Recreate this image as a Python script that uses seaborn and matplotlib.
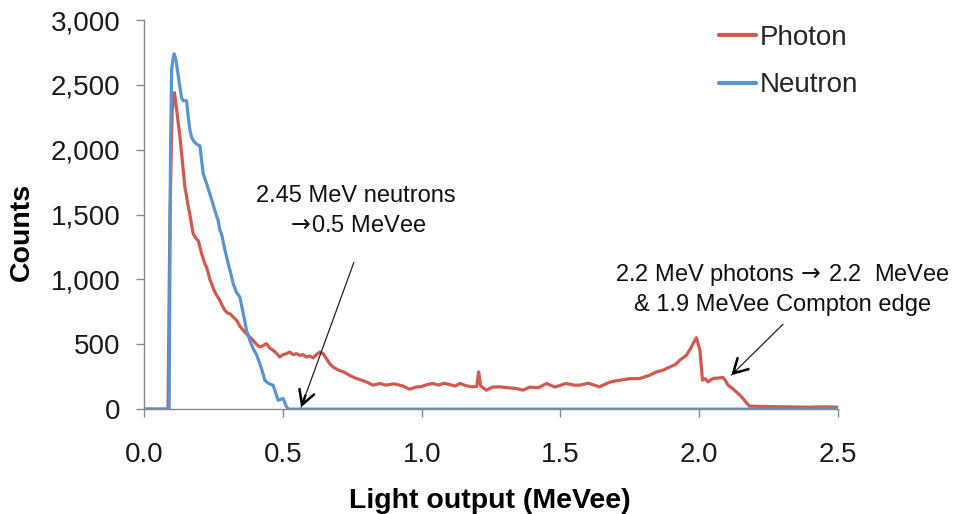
import matplotlib
matplotlib.use("Agg")
import matplotlib.pyplot as plt
import seaborn as sns
import pandas as pd

# ---- data ----
photon_x = [0.00, 0.085, 0.092, 0.100, 0.108, 0.115, 0.121, 0.128, 0.134, 0.140, 0.146, 0.152,
            0.158, 0.164, 0.170, 0.176, 0.182, 0.188, 0.194, 0.200, 0.206, 0.212, 0.218, 0.224,
            0.230, 0.236, 0.242, 0.250, 0.260, 0.272, 0.280, 0.290, 0.300, 0.308, 0.320, 0.332,
            0.344, 0.356, 0.368, 0.380, 0.392, 0.404, 0.416, 0.428, 0.440, 0.452, 0.464, 0.476,
            0.488, 0.500, 0.512, 0.524, 0.536, 0.548, 0.560, 0.572, 0.584, 0.596, 0.608, 0.620,
            0.632, 0.644, 0.656, 0.668, 0.680, 0.700, 0.720, 0.740, 0.760, 0.780, 0.800, 0.824,
            0.849, 0.870, 0.900, 0.930, 0.956, 0.980, 1.000, 1.020, 1.040, 1.060, 1.080, 1.100,
            1.120, 1.138, 1.160, 1.185, 1.198, 1.205, 1.212, 1.233, 1.255, 1.280, 1.310, 1.340,
            1.365, 1.390, 1.420, 1.450, 1.480, 1.520, 1.550, 1.570, 1.600, 1.640, 1.680, 1.714,
            1.750, 1.785, 1.820, 1.846, 1.870, 1.894, 1.915, 1.930, 1.954, 1.970, 1.978, 1.990,
            2.003, 2.012, 2.022, 2.032, 2.050, 2.070, 2.086, 2.095, 2.104, 2.120, 2.134, 2.146,
            2.158, 2.170, 2.182, 2.230, 2.300, 2.400, 2.450, 2.500]
photon_counts = [0, 0, 1500, 2300, 2440, 2330, 2220, 2100, 1970, 1840, 1710, 1640,
                 1560, 1500, 1420, 1350, 1330, 1310, 1300, 1250, 1200, 1160, 1120, 1095,
                 1050, 1000, 967, 920, 880, 838, 800, 762, 740, 736, 710, 685,
                 640, 608, 580, 556, 530, 500, 479, 490, 505, 470, 454, 430,
                 402, 420, 428, 440, 420, 428, 415, 420, 402, 410, 395, 420,
                 440, 428, 390, 350, 325, 300, 285, 260, 240, 225, 210, 185,
                 198, 185, 195, 180, 154, 170, 175, 190, 198, 185, 200, 190,
                 178, 198, 180, 172, 175, 287, 180, 146, 170, 172, 165, 160,
                 146, 170, 165, 198, 170, 198, 185, 185, 200, 172, 210, 223,
                 235, 236, 260, 287, 300, 325, 345, 377, 415, 470, 505, 551,
                 454, 223, 235, 210, 236, 240, 244, 220, 185, 160, 133, 110,
                 82, 50, 23, 20, 18, 15, 18, 15]

neutron_x = [0.00, 0.085, 0.089, 0.094, 0.098, 0.103, 0.107, 0.113, 0.120, 0.128, 0.134, 0.140,
             0.146, 0.152, 0.158, 0.164, 0.170, 0.180, 0.190, 0.200, 0.206, 0.212, 0.224, 0.236,
             0.250, 0.260, 0.266, 0.272, 0.278, 0.290, 0.302, 0.312, 0.320, 0.332, 0.344, 0.356,
             0.368, 0.380, 0.392, 0.404, 0.416, 0.425, 0.434, 0.446, 0.456, 0.464, 0.474, 0.482,
             0.490, 0.500, 0.506, 0.512, 0.520, 2.500]
neutron_counts = [0, 0, 0, 2000, 2620, 2700, 2740, 2700, 2600, 2480, 2400, 2377,
                  2380, 2377, 2250, 2150, 2095, 2060, 2040, 2031, 1920, 1813, 1740, 1659,
                  1560, 1490, 1454, 1380, 1351, 1230, 1121, 1040, 967, 900, 864, 740,
                  608, 530, 467, 420, 352, 290, 223, 200, 190, 185, 120, 69,
                  75, 82, 50, 18, 0, 0]

series_names = ["Photon", "Neutron"]
series_colors = ["#CF5B50", "#5A93CF"]
x_ticks = [0.0, 0.5, 1.0, 1.5, 2.0, 2.5]
y_ticks = [0, 500, 1000, 1500, 2000, 2500, 3000]

df = pd.concat([
    pd.DataFrame({"x": photon_x, "y": photon_counts, "Series": series_names[0]}),
    pd.DataFrame({"x": neutron_x, "y": neutron_counts, "Series": series_names[1]}),
], ignore_index=True)

sns.set_theme(style="white")
plt.rcParams["font.family"] = ["Liberation Sans", "DejaVu Sans"]
plt.rcParams["mathtext.fontset"] = "dejavusans"

fig = plt.figure(figsize=(9.63, 5.14), dpi=100)
ax = fig.add_axes([0.150, 0.204, 0.720, 0.757])

sns.lineplot(data=df, x="x", y="y", hue="Series", hue_order=series_names,
             palette=dict(zip(series_names, series_colors)), linewidth=2.3,
             estimator=None, sort=False, ax=ax)

ax.set_xlim(0, 2.5)
ax.set_ylim(0, 3000)
ax.set_xticks(x_ticks)
ax.set_xticklabels([f"{v:.1f}" for v in x_ticks])
ax.set_yticks(y_ticks)
ax.set_yticklabels([f"{v:,}" for v in y_ticks])
ax.tick_params(axis="both", labelsize=20, colors="#888888", labelcolor="#1a1a1a",
               length=6, width=1, direction="out", bottom=True, left=True)
ax.tick_params(axis="x", pad=18)
ax.tick_params(axis="y", pad=11.5)
for side in ["top", "right"]:
    ax.spines[side].set_visible(False)
for side in ["left", "bottom"]:
    ax.spines[side].set_color("#888888")
    ax.spines[side].set_linewidth(1)

ax.set_xlabel("Light output (MeVee)", fontsize=20.5, fontweight="bold", color="#000000", va="center")
ax.set_ylabel("Counts", fontsize=20.5, fontweight="bold", color="#000000", va="center")
ax.xaxis.set_label_coords(0.498, -0.237)
ax.yaxis.set_label_coords(-0.177, 0.455)

leg = ax.legend(loc="upper left", bbox_to_anchor=(719 / 963, 1 - 25 / 514),
                bbox_transform=fig.transFigure, frameon=False, fontsize=20,
                handlelength=1.33, handletextpad=0.12, labelspacing=0.77,
                borderpad=0, borderaxespad=0)
for line in leg.get_lines():
    line.set_linewidth(3)

ann_kw = dict(fontsize=17, color="#111111", ha="center", va="center")
ax.text(0.762, 1640, "2.45 MeV neutrons", **ann_kw)
ax.text(0.762, 1410, r"$\rightarrow\!$0.5 MeVee", **ann_kw)
ax.text(2.302, 1031, r"2.2 MeV photons $\!\rightarrow\!$ 2.2  MeVee", clip_on=False, **ann_kw)
ax.text(2.302, 800, "& 1.9 MeVee Compton edge", clip_on=False, **ann_kw)

# arrows: thin shaft + bolder head
shaft_kw = dict(arrowstyle="-", color="#222222", lw=0.9, shrinkA=0, shrinkB=0)
head_kw = dict(arrowstyle="->,head_length=0.5,head_width=0.28", color="#000000", lw=1.8,
               shrinkA=0, shrinkB=0, mutation_scale=20)
arrows = [((0.565, 15), (0.755, 1131)), ((2.116, 262), (2.302, 654))]
for tip, start in arrows:
    ax.annotate("", xy=tip, xytext=start, arrowprops=shaft_kw, annotation_clip=False)
    near = (tip[0] + 0.08 * (start[0] - tip[0]), tip[1] + 0.08 * (start[1] - tip[1]))
    ax.annotate("", xy=tip, xytext=near, arrowprops=head_kw, annotation_clip=False)

fig.savefig("out.png", dpi=100)
